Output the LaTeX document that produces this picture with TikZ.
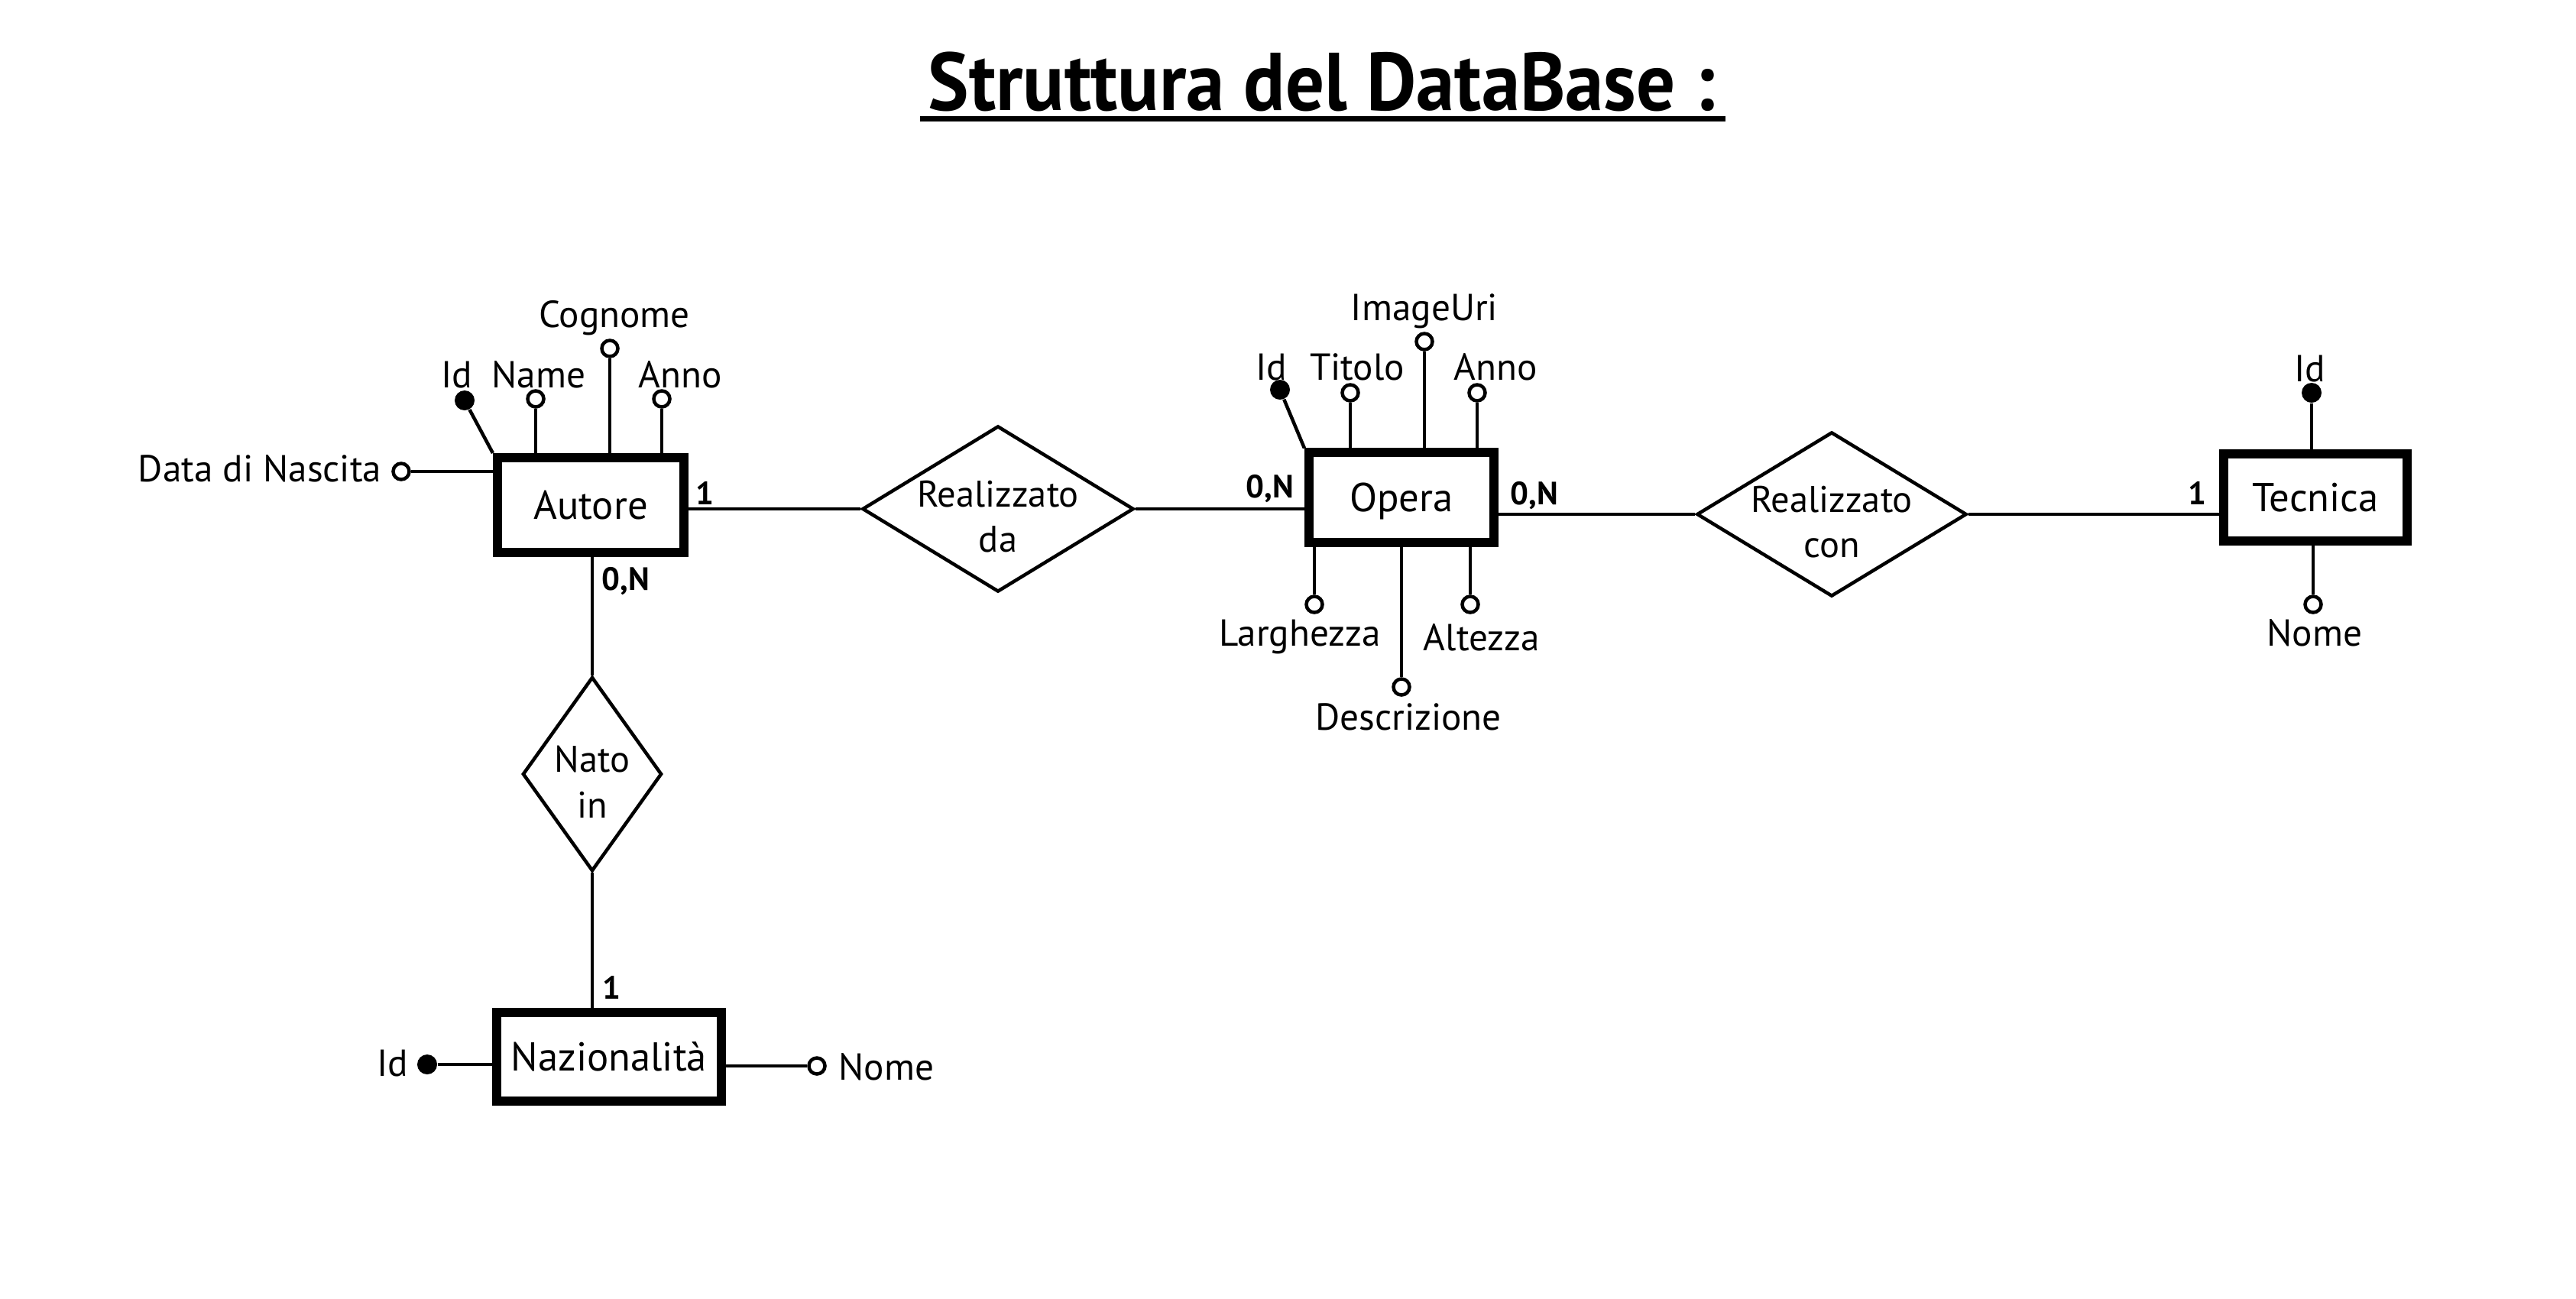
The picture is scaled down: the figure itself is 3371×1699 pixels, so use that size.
\documentclass[tikz,border=0pt]{standalone}
\usepackage{fontspec}
\usepackage{graphicx}
\setmainfont{PT Sans}
\usetikzlibrary{shapes.geometric}
\begin{document}
\begin{tikzpicture}[x=0.01cm,y=-0.01cm,
  entity/.style={draw, line width=0.12cm, inner sep=0pt,
    font=\fontsize{15}{18}\selectfont, text height=10.5pt, text depth=0pt},
  rel/.style={diamond, draw, line width=0.045cm, inner sep=0pt},
  reltext/.style={align=center, inner sep=0pt, yshift=-0.1cm,
    font=\fontsize{13.8}{17}\selectfont},
  attr/.style={circle, draw, line width=0.045cm, fill=white, inner sep=0pt, minimum size=0.21cm},
  keyattr/.style={circle, fill=black, inner sep=0pt, minimum size=0.26cm},
  lbl/.style={font=\fontsize{14}{17}\selectfont, inner sep=0pt, anchor=base},
  card/.style={font=\bfseries\fontsize{12}{14}\selectfont, inner sep=0pt, anchor=base},
  link/.style={line width=0.045cm}]
\useasboundingbox (0,0) rectangle (3371,1699);
\fill[white] (0,0) rectangle (3371,1699);

% title
\node[anchor=base, inner sep=0pt, font=\bfseries\fontsize{30.5}{36}\selectfont] (title) at (1730,144) {\scalebox{0.94}[1]{Struttura del DataBase :}};
\coordinate (ulA) at (1204,155);
\coordinate (ulB) at (2258,155);
\draw[line width=0.07cm] (ulA) -- (ulB);

% entities
\node[entity, minimum width=2.44cm, minimum height=1.24cm] (aut) at (773,661) {Autore};
\node[entity, minimum width=2.42cm, minimum height=1.17cm] (ope) at (1834,651) {Opera};
\node[entity, minimum width=2.39cm, minimum height=1.13cm] (tec) at (3030,651) {Tecnica};
\node[entity, minimum width=2.93cm, minimum height=1.15cm] (naz) at (797,1383) {Nazionalità};

% relationships
\node[rel, minimum width=3.55cm, minimum height=2.17cm,
  label={[reltext]center:Realizzato\\da}] (rda) at (1306,666) {};
\node[rel, minimum width=3.53cm, minimum height=2.15cm,
  label={[reltext]center:Realizzato\\con}] (rcon) at (2397,673) {};
\node[rel, minimum width=1.82cm, minimum height=2.54cm,
  label={[reltext]center:Nato\\in}] (nato) at (775,1013) {};

\draw[link] (rda.west) -- (rda.west -| aut.east);
\draw[link] (rda.east) -- (rda.east -| ope.west);
\draw[link] (rcon.west) -- (rcon.west -| ope.east);
\draw[link] (rcon.east) -- (rcon.east -| tec.west);
\draw[link] (nato.north) -- (nato.north |- aut.south);
\draw[link] (nato.south) -- (nato.south |- naz.north);

% cardinalities
\node[card] (c1) at (922,660) {1};
\node[card] (c2) at (1662,651) {0,N};
\node[card] (c3) at (2008,660) {0,N};
\node[card] (c4) at (2875,660) {1};
\node[card] (c5) at (819,772) {0,N};
\node[card] (c6) at (800,1307) {1};

% Autore attributes
\node[keyattr] (aid) at (608,524) {};
\draw[link] (aid) -- (aut.north west);
\node[lbl] (aidl) at (598,507) {Id};
\node[attr] (aname) at (701,522) {};
\draw[link] (aname.south) -- (aname.south |- aut.north);
\node[lbl] (anamel) at (705,507) {Name};
\node[attr] (acog) at (798,456) {};
\draw[link] (acog.south) -- (acog.south |- aut.north);
\node[lbl] (acogl) at (804,428) {Cognome};
\node[attr] (aanno) at (866,522) {};
\draw[link] (aanno.south) -- (aanno.south |- aut.north);
\node[lbl] (aannol) at (890,507) {Anno};
\node[attr] (addn) at (525,617) {};
\draw[link] (addn.east) -- (addn.east -| aut.west);
\node[lbl, anchor=base east] (addnl) at (500,630) {Data di Nascita};

% Opera attributes
\node[keyattr] (oid) at (1675,510) {};
\draw[link] (oid) -- (ope.north west);
\node[lbl] (oidl) at (1664,497) {Id};
\node[attr] (otit) at (1767,514) {};
\draw[link] (otit.south) -- (otit.south |- ope.north);
\node[lbl] (otitl) at (1776,497) {Titolo};
\node[attr] (oimg) at (1864,447) {};
\draw[link] (oimg.south) -- (oimg.south |- ope.north);
\node[lbl] (oimgl) at (1864,419) {ImageUri};
\node[attr] (oanno) at (1933,514) {};
\draw[link] (oanno.south) -- (oanno.south |- ope.north);
\node[lbl] (oannol) at (1957,497) {Anno};
\node[attr] (olar) at (1720,791) {};
\draw[link] (olar.north) -- (olar.north |- ope.south);
\node[lbl] (olarl) at (1701,845) {Larghezza};
\node[attr] (odes) at (1834,899) {};
\draw[link] (odes.north) -- (odes.north |- ope.south);
\node[lbl] (odesl) at (1843,955) {Descrizione};
\node[attr] (oalt) at (1924,791) {};
\draw[link] (oalt.north) -- (oalt.north |- ope.south);
\node[lbl] (oaltl) at (1939,851) {Altezza};

% Tecnica attributes
\node[keyattr] (tid) at (3025,514) {};
\draw[link] (tid.south) -- (tid.south |- tec.north);
\node[lbl] (tidl) at (3023,499) {Id};
\node[attr] (tnom) at (3027,791) {};
\draw[link] (tnom.north) -- (tnom.north |- tec.south);
\node[lbl] (tnoml) at (3029,845) {Nome};

% Nazionalita attributes
\node[keyattr] (nid) at (559,1393) {};
\draw[link] (nid.east) -- (nid.east -| naz.west);
\node[lbl] (nidl) at (514,1408) {Id};
\node[attr] (nnom) at (1069,1395) {};
\draw[link] (nnom.west) -- (nnom.west -| naz.east);
\node[lbl, anchor=base west] (nnoml) at (1097,1413) {Nome};
\end{tikzpicture}
\end{document}
